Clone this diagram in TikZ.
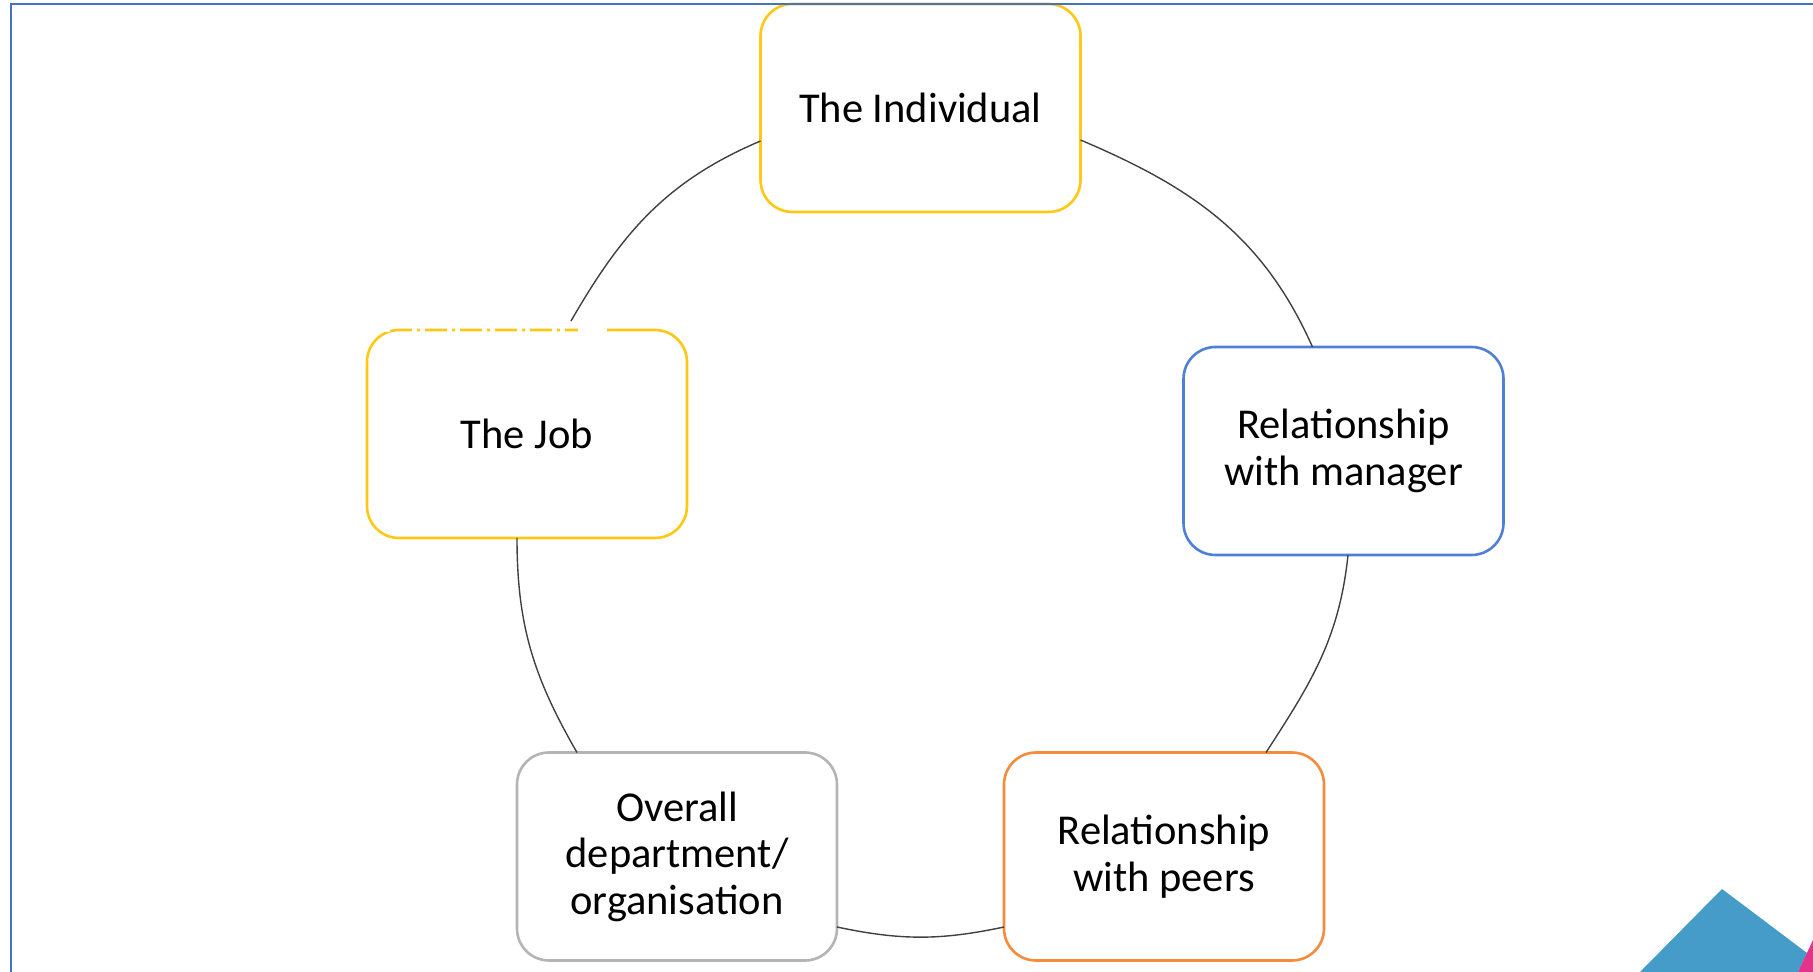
\documentclass[tikz,border=0pt]{standalone}
\usepackage{fontspec}
\setmainfont{Carlito}
\definecolor{boxyellow}{HTML}{FFC814}
\definecolor{boxblue}{HTML}{4F7FD6}
\definecolor{boxorange}{HTML}{F68B3C}
\definecolor{boxgray}{HTML}{B4B4B4}
\definecolor{linkgray}{HTML}{404040}
\definecolor{framecol}{HTML}{4472C4}
\definecolor{cornerblue}{HTML}{469CC8}
\definecolor{cornermag}{HTML}{E3338A}
\begin{document}
\begin{tikzpicture}[x=1pt,y=1pt,
  box/.style={draw, rounded corners=32pt, minimum width=320pt, minimum height=208pt,
    inner sep=0pt, outer sep=0pt, line width=2.6pt, fill=white, align=center,
    font=\fontsize{42.5}{46.5}\selectfont, text=black},
  link/.style={draw=linkgray, line width=1.4pt}]
\useasboundingbox (0,0) rectangle (1813,972);
% corner decoration
\fill[cornerblue] (1640,0) -- (1722,83) -- (1807,19) -- (1798,0) -- cycle;
\fill[cornermag] (1813,32) -- (1798,0) -- (1813,0) -- cycle;
% boxes
\node[box, draw=boxyellow] (ind) at (920.5,864) {The Individual};
\node[box, draw=boxyellow] (job) at (527,538) {The Job};
\node[box, draw=boxblue] (mgr) at (1343.5,521) {Relationship\\with manager};
\node[box, draw=boxorange] (peer) at (1164,115.5) {Relationship\\with peers};
\node[box, draw=boxgray] (ovr) at (677,115.5) {Overall\\department/\\organisation};
% connectors (arcs of the cycle)
\draw[link] ([yshift=-32pt]ind.east) to[out=-23,in=114] ([xshift=-31pt]mgr.north);
\draw[link] ([xshift=4.5pt]mgr.south) to[out=-96,in=57] ([xshift=102pt]peer.north);
\draw[link] ([yshift=-70.5pt]peer.west) to[out=192,in=-12] ([yshift=-70.5pt]ovr.east);
\draw[link] ([xshift=-100pt]ovr.north) to[out=120,in=-90] ([xshift=-10pt]job.south);
\draw[link] ([xshift=44pt,yshift=9pt]job.north) to[out=60,in=-157] ([yshift=-33pt]ind.west);
% erased bits on the top edge of The Job
\draw[white, line width=3.4pt, dash pattern=on 5pt off 3pt on 5pt off 22pt]
  ([xshift=-150pt]job.north) -- ([xshift=51pt]job.north);
\draw[white, line width=3.4pt] ([xshift=51pt]job.north) -- ([xshift=80pt]job.north);
% frame
\draw[framecol, line width=2pt] (11,0) -- (11,967.5) -- (1813,967.5);
\end{tikzpicture}
\end{document}
